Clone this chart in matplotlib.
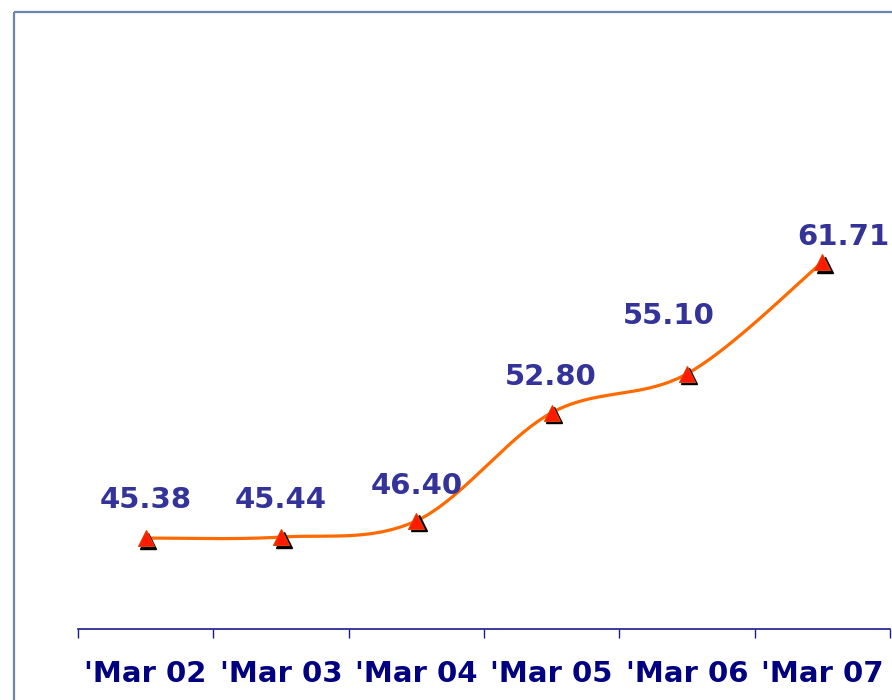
import numpy as np
import matplotlib
matplotlib.use("Agg")
import matplotlib.pyplot as plt
from matplotlib.lines import Line2D
from matplotlib.transforms import offset_copy

categories = ["'Mar 02", "'Mar 03", "'Mar 04", "'Mar 05", "'Mar 06", "'Mar 07"]
values = [45.38, 45.44, 46.40, 52.80, 55.10, 61.71]
value_labels = ["45.38", "45.44", "46.40", "52.80", "55.10", "61.71"]
# label offsets (pixels) relative to each point
label_dx = [0, 0, 0, -1, -18, 21]
label_dy = [30, 29, 27, 28, 50, 17]

W, H = 892, 700
fig = plt.figure(figsize=(W / 100, H / 100), dpi=100)
fig.patch.set_facecolor("white")

# outer frame (left and top edges visible)
frame_c = "#6a86a6"
fig.add_artist(Line2D([14.5 / W, 14.5 / W], [-0.01, 1 - 11.5 / H], color=frame_c, lw=1.6,
                      transform=fig.transFigure, solid_capstyle="butt"))
fig.add_artist(Line2D([14.5 / W, 1.01], [1 - 11.5 / H, 1 - 11.5 / H], color=frame_c, lw=1.6,
                      transform=fig.transFigure, solid_capstyle="butt"))

ax = fig.add_axes([78 / W, 1 - 629 / H, (890 - 78) / W, (629 - 30) / H])
ax.set_xlim(-0.5, len(categories) - 0.5)
ax.set_ylim(40, 40 + 599 / 16.9)
ax.patch.set_alpha(0)
for s in ["top", "right", "left"]:
    ax.spines[s].set_visible(False)
ax.spines["bottom"].set_color("#1a1a8c")
ax.spines["bottom"].set_linewidth(1.2)
ax.set_yticks([])

x = np.arange(len(values))
y = np.array(values, dtype=float)

# smoothed line (Bezier through points, Catmull-Rom style control points)
pts = np.column_stack([x, y])
curve = []
n = len(pts)
for i in range(n - 1):
    p0 = pts[max(i - 1, 0)]
    p1 = pts[i]
    p2 = pts[i + 1]
    p3 = pts[min(i + 2, n - 1)]
    c1 = p1 + (p2 - p0) / 6.0
    c2 = p2 - (p3 - p1) / 6.0
    t = np.linspace(0, 1, 40)[:, None]
    seg = ((1 - t) ** 3) * p1 + 3 * ((1 - t) ** 2) * t * c1 + 3 * (1 - t) * t ** 2 * c2 + t ** 3 * p2
    curve.append(seg if i == 0 else seg[1:])
curve = np.vstack(curve)
ax.plot(curve[:, 0], curve[:, 1], color="#ff6a00", lw=2.3, solid_capstyle="round", zorder=2)

# markers with shadow
shadow_tr = offset_copy(ax.transData, fig=fig, x=2.5, y=-2.5, units="dots")
ax.plot(x, y, linestyle="none", marker="^", markersize=12, color="black",
        markeredgecolor="black", transform=shadow_tr, zorder=3, clip_on=False)
ax.plot(x, y, linestyle="none", marker="^", markersize=12, color="#ff1a00",
        markeredgecolor="#e04000", markeredgewidth=0.8, zorder=4, clip_on=False)

# value labels
for xi, yi, lab, dx, dy in zip(x, y, value_labels, label_dx, label_dy):
    ax.annotate(lab, (xi, yi), xytext=(dx, dy), textcoords="offset pixels",
                ha="center", va="baseline", fontsize=21, fontweight="bold",
                family="DejaVu Sans", color="#333399", annotation_clip=False, zorder=5)

# ticks
ax.set_xticks(x)
ax.set_xticklabels(categories, fontsize=21, fontweight="bold", family="DejaVu Sans",
                   color="#000080")
ax.tick_params(axis="x", which="major", length=0, pad=22.5)
ax.set_xticks(np.arange(-0.5, len(categories)), minor=True)
ax.tick_params(axis="x", which="minor", length=6.5, width=1.0, color="#1a1a8c", direction="out")

fig.savefig("out.png", dpi=100, facecolor="white")
